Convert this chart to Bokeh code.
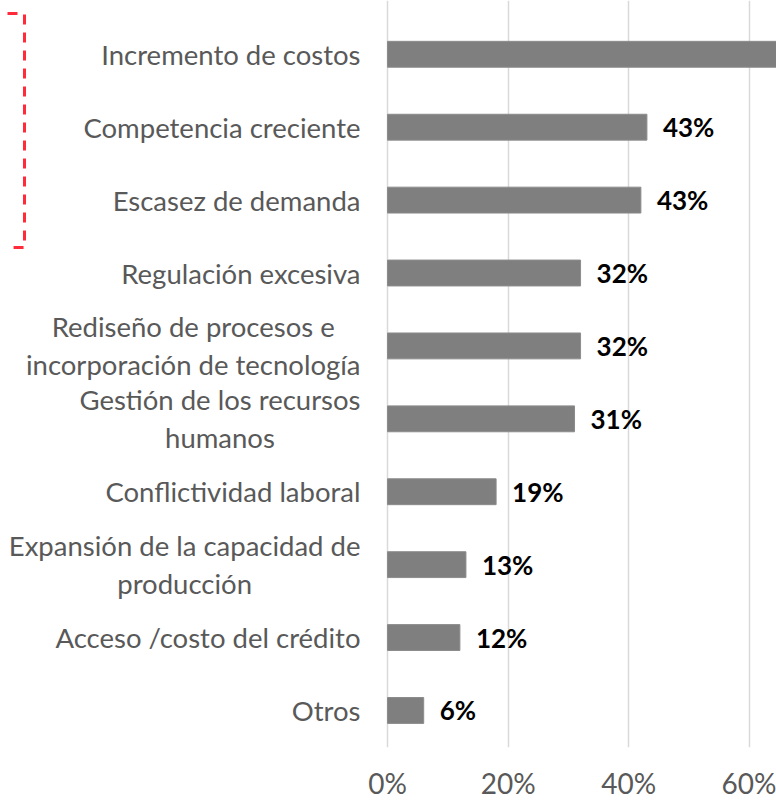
from bokeh.plotting import figure
from bokeh.models import Range1d, FixedTicker, NumeralTickFormatter, ColumnDataSource
from bokeh.core.properties import value
from bokeh.embed import file_html
from bokeh.resources import INLINE

# ---- data ----
categories = [
    "Incremento de costos",
    "Competencia creciente",
    "Escasez de demanda",
    "Regulación excesiva",
    "Rediseño de procesos e\nincorporación de tecnología",
    "Gestión de los recursos\nhumanos",
    "Conflictividad laboral",
    "Expansión de la capacidad de\nproducción",
    "Acceso /costo del crédito",
    "Otros",
]
values = [0.68, 0.43, 0.42, 0.32, 0.32, 0.31, 0.18, 0.13, 0.12, 0.06]
value_labels = ["68%", "43%", "43%", "32%", "32%", "31%", "19%", "13%", "12%", "6%"]
x_ticks = [0, 0.2, 0.4, 0.6]

# ---- layout constants ----
W, H = 776, 802
n = len(categories)
ypos = [n - 1 - i for i in range(n)]

FONT = "Lato"
GRAY_TXT = "#595959"
X0, X1 = -0.6415, 0.6448
Y0, Y1 = -0.508, 9.7377

p = figure(width=W, height=H, output_backend="svg", toolbar_location=None,
           x_range=Range1d(X0, X1), y_range=Range1d(Y0, Y1),
           min_border_left=0, min_border_right=0, min_border_top=0,
           min_border_bottom=52)
p.outline_line_color = None
p.background_fill_color = "white"
p.border_fill_color = "white"

# axes
p.yaxis.visible = False
p.ygrid.visible = False
p.xaxis.ticker = FixedTicker(ticks=x_ticks)
p.xaxis.formatter = NumeralTickFormatter(format="0%")
p.xaxis.axis_line_color = None
p.xaxis.major_tick_line_color = None
p.xaxis.minor_tick_line_color = None
p.xaxis.major_tick_out = 0
p.xaxis.major_tick_in = 0
p.xaxis.minor_tick_out = 0
p.xaxis.major_label_text_font = FONT
p.xaxis.major_label_text_font_size = "28px"
p.xaxis.major_label_text_color = GRAY_TXT
p.xaxis.major_label_standoff = 18
p.xgrid.grid_line_color = "#d9d9d9"
p.xgrid.grid_line_width = 1.5

src = ColumnDataSource(dict(y=ypos, v=values, cat=categories))

# value labels only where they fall inside the visible range
vis = [i for i in range(n) if values[i] < X1 - 0.1]
lab_src = ColumnDataSource(dict(y=[ypos[i] for i in vis], v=[values[i] for i in vis],
                                lab=[value_labels[i] for i in vis]))

p.hbar(y="y", right="v", left=0, height=0.355, source=src,
       fill_color="#7f7f7f", line_color="#8c8c8c", line_width=1)

# category labels
p.text(x=-0.0448, y="y", text="cat", source=src, anchor="center_right",
       text_align="center", text_baseline="middle",
       text_font=value(FONT), text_font_size="27.5px", text_color=GRAY_TXT,
       text_line_height=1.15)

# value labels
p.text(x="v", y="y", text="lab", source=lab_src, x_offset=16,
       text_align="left", text_baseline="middle",
       text_font=value(FONT), text_font_size="26px", text_font_style="bold",
       text_color="black")

# red dashed bracket (decoration)
p.line(x=[-0.6299, -0.6017, -0.6017, -0.6299],
       y=[9.56, 9.56, 6.35, 6.35], line_color="#ff2a3a", line_width=3,
       line_dash="10 8")

open("out.html", "w").write(file_html(p, INLINE))
